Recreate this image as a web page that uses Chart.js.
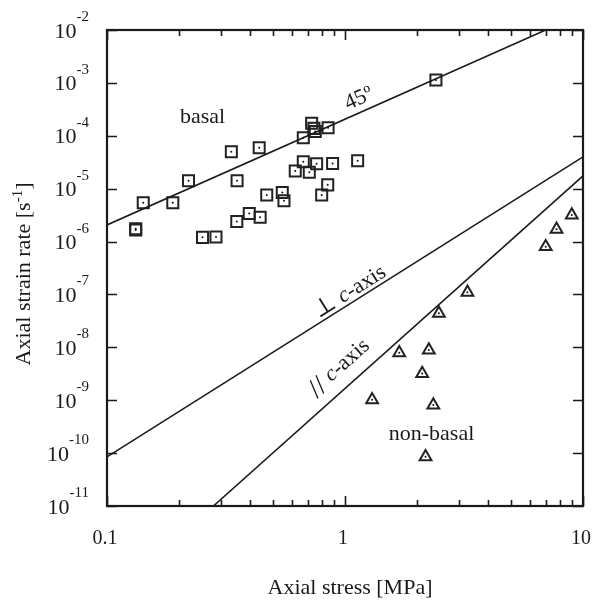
<!DOCTYPE html>
<html>
<head>
<meta charset="utf-8">
<script src="https://cdn.jsdelivr.net/npm/chart.js@4"></script>
<style>
  html, body { margin: 0; padding: 0; background: #fff; }
  canvas { display: block; }
</style>
</head>
<body>
<canvas id="strainChart" width="594" height="600"></canvas>
<script>
// basal slip data (squares)
const basalStress = [0.132, 0.132, 0.142, 0.189, 0.22, 0.252, 0.287, 0.333, 0.352, 0.351, 0.396, 0.436, 0.44, 0.469, 0.545,
    0.554, 0.618, 0.668, 0.668, 0.708, 0.724, 0.74, 0.75, 0.76, 0.798, 0.849, 0.846, 0.887, 1.13, 2.41];
const basalRate = [1.74e-6, 1.65e-6, 5.4e-6, 5.4e-6, 1.41e-5, 1.2e-6, 1.22e-6, 5.0e-5, 1.41e-5, 2.4e-6, 3.4e-6, 5.96e-5, 2.88e-6, 7.6e-6, 8.5e-6,
    5.9e-6, 2.16e-5, 9.2e-5, 3.23e-5, 2.05e-5, 1.72e-4, 1.38e-4, 1.2e-4, 2.95e-5, 7.6e-6, 1.42e-4, 1.18e-5, 3.0e-5, 3.37e-5, 1.13e-3];

// non-basal data (triangles)
const nonBasalStress = [8.97, 7.74, 6.97, 3.27, 2.48, 1.69, 2.25, 2.11, 1.30, 2.35, 2.18];
const nonBasalRate = [3.18e-6, 1.7e-6, 8.0e-7, 1.1e-7, 4.4e-8, 7.9e-9, 8.9e-9, 3.2e-9, 1.02e-9, 8.1e-10, 8.5e-11];

// fitted lines
const line45Stress = [0.1, 6.97];
const line45Rate = [2.06e-6, 1e-2];
const perpStress = [0.1, 10];
const perpRate = [8.5e-11, 4.0e-5];
const paraStress = [0.28, 10];
const paraRate = [1e-11, 1.74e-5];

// axes
const xTickValues = [0.1, 1, 10];
const xTickLabels = ["0.1", "1", "10"];
const yExponents = [-11, -10, -9, -8, -7, -6, -5, -4, -3, -2];

const toPoints = (xs, ys) => xs.map((x, i) => ({ x: x, y: ys[i] }));

const SERIF = "'Liberation Serif', 'Times New Roman', serif";
const INK = "#1a1a1a";

function drawParts(ctx, parts, cx, cy, angle) {
    ctx.save();
    ctx.translate(cx, cy);
    ctx.rotate(angle);
    let total = 0;
    parts.forEach(p => { ctx.font = p.font; total += ctx.measureText(p.t).width + (p.gap || 0); });
    let x = -total / 2;
    ctx.textAlign = "left";
    ctx.textBaseline = "alphabetic";
    parts.forEach(p => {
        ctx.font = p.font;
        ctx.fillText(p.t, x, p.dy || 0);
        x += ctx.measureText(p.t).width + (p.gap || 0);
    });
    ctx.restore();
}

const framePlugin = {
    id: "frame",
    afterDatasetsDraw(chart) {
        const { ctx, chartArea: a, scales: { x, y } } = chart;
        ctx.save();
        ctx.strokeStyle = INK;
        ctx.fillStyle = INK;

        // inward ticks
        ctx.lineWidth = 1.6;
        ctx.beginPath();
        for (let d = -1; d <= 1; d++) {
            for (let m = 1; m <= 9; m++) {
                const v = m * Math.pow(10, d);
                if (v > 10.0001) continue;
                const px = Math.round(x.getPixelForValue(v)) + 0.5;
                const len = m === 1 ? 10 : 6;
                ctx.moveTo(px, a.bottom); ctx.lineTo(px, a.bottom - len);
                ctx.moveTo(px, a.top); ctx.lineTo(px, a.top + len);
            }
        }
        yExponents.forEach(e => {
            const py = Math.round(y.getPixelForValue(Math.pow(10, e))) + 0.5;
            ctx.moveTo(a.left, py); ctx.lineTo(a.left + 10, py);
            ctx.moveTo(a.right, py); ctx.lineTo(a.right - 10, py);
        });
        ctx.stroke();

        // frame
        ctx.lineWidth = 2.2;
        ctx.strokeRect(a.left, a.top, a.right - a.left, a.bottom - a.top);

        // x tick labels
        ctx.font = "20px " + SERIF;
        ctx.textAlign = "center";
        ctx.textBaseline = "alphabetic";
        xTickValues.forEach((v, i) => {
            ctx.fillText(xTickLabels[i], x.getPixelForValue(v) - 2, a.bottom + 38);
        });

        // y tick labels 10^n, right-aligned as a group
        ctx.textAlign = "left";
        yExponents.forEach(e => {
            const py = y.getPixelForValue(Math.pow(10, e));
            ctx.font = "15px " + SERIF;
            const supW = ctx.measureText(String(e)).width;
            ctx.font = "22px " + SERIF;
            const baseW = ctx.measureText("10").width;
            const x0 = 89 - supW - baseW;
            ctx.fillText("10", x0, py + 7.5);
            ctx.font = "15px " + SERIF;
            ctx.fillText(String(e), x0 + baseW, py - 9);
        });

        // axis titles
        ctx.font = "22px " + SERIF;
        ctx.textAlign = "center";
        ctx.fillText("Axial stress [MPa]", (a.left + a.right) / 2 + 5, 594);
        drawParts(ctx, [
            { t: "Axial strain rate [s", font: "22px " + SERIF },
            { t: "-1", font: "15px " + SERIF, dy: -8 },
            { t: "]", font: "22px " + SERIF }
        ], 30, 274, -Math.PI / 2);

        // annotations
        const P = (vx, vy) => [x.getPixelForValue(vx), y.getPixelForValue(vy)];
        const slopeAngle = (xs, ys) => {
            const [x1, y1] = P(xs[0], ys[0]);
            const [x2, y2] = P(xs[1], ys[1]);
            return Math.atan2(y2 - y1, x2 - x1);
        };
        const f22 = "22px " + SERIF;
        const i22 = "italic 22px " + SERIF;

        let [bx, by] = P(0.252, 2.5e-4);
        drawParts(ctx, [{ t: "basal", font: f22 }], bx, by + 8, 0);
        [bx, by] = P(2.31, 2.5e-10);
        drawParts(ctx, [{ t: "non-basal", font: f22 }], bx, by + 8, 0);

        [bx, by] = P(1.17, 5.6e-4);
        drawParts(ctx, [{ t: "45º", font: f22 }], bx, by + 8, slopeAngle(line45Stress, line45Rate));

        [bx, by] = P(1.08, 1.27e-7);
        drawParts(ctx, [{ t: "\u22A5", font: "24px 'DejaVu Serif', serif", gap: 6 }, { t: "c", font: i22 }, { t: "-axis", font: f22 }],
            bx, by + 8, slopeAngle(perpStress, perpRate));

        [bx, by] = P(0.98, 4.85e-9);
        drawParts(ctx, [{ t: "//", font: "28px " + SERIF, gap: 6, dy: 3 }, { t: "c", font: i22 }, { t: "-axis", font: f22 }],
            bx, by + 8, slopeAngle(paraStress, paraRate));

        ctx.restore();
    }
};

document.addEventListener("DOMContentLoaded", () => {
    const ctx = document.getElementById("strainChart").getContext("2d");
    new Chart(ctx, {
        type: "scatter",
        data: {
            datasets: [
                { type: "line", data: toPoints(line45Stress, line45Rate), borderColor: INK, borderWidth: 1.6, pointRadius: 0, fill: false },
                { type: "line", data: toPoints(perpStress, perpRate), borderColor: INK, borderWidth: 1.6, pointRadius: 0, fill: false },
                { type: "line", data: toPoints(paraStress, paraRate), borderColor: INK, borderWidth: 1.6, pointRadius: 0, fill: false },
                { label: "basal", data: toPoints(basalStress, basalRate), pointStyle: "rect", pointRadius: 7.8,
                  borderColor: "#222", borderWidth: 2, backgroundColor: "rgba(255,255,255,0)" },
                { data: toPoints(basalStress, basalRate), pointStyle: "circle", pointRadius: 1, borderWidth: 0, backgroundColor: "#111" },
                { label: "non-basal", data: toPoints(nonBasalStress, nonBasalRate), pointStyle: "triangle", pointRadius: 6.8,
                  borderColor: "#222", borderWidth: 2, backgroundColor: "rgba(255,255,255,0)" },
                { data: toPoints(nonBasalStress, nonBasalRate), pointStyle: "circle", pointRadius: 1, borderWidth: 0, backgroundColor: "#111" }
            ]
        },
        options: {
            responsive: false,
            devicePixelRatio: 1,
            animation: false,
            layout: { padding: { left: 107, right: 11, top: 30, bottom: 94 } },
            plugins: { legend: { display: false }, tooltip: { enabled: false } },
            scales: {
                x: { type: "logarithmic", min: 0.1, max: 10, display: false },
                y: { type: "logarithmic", min: 1e-11, max: 1e-2, display: false }
            }
        },
        plugins: [framePlugin]
    });
});
</script>
</body>
</html>
